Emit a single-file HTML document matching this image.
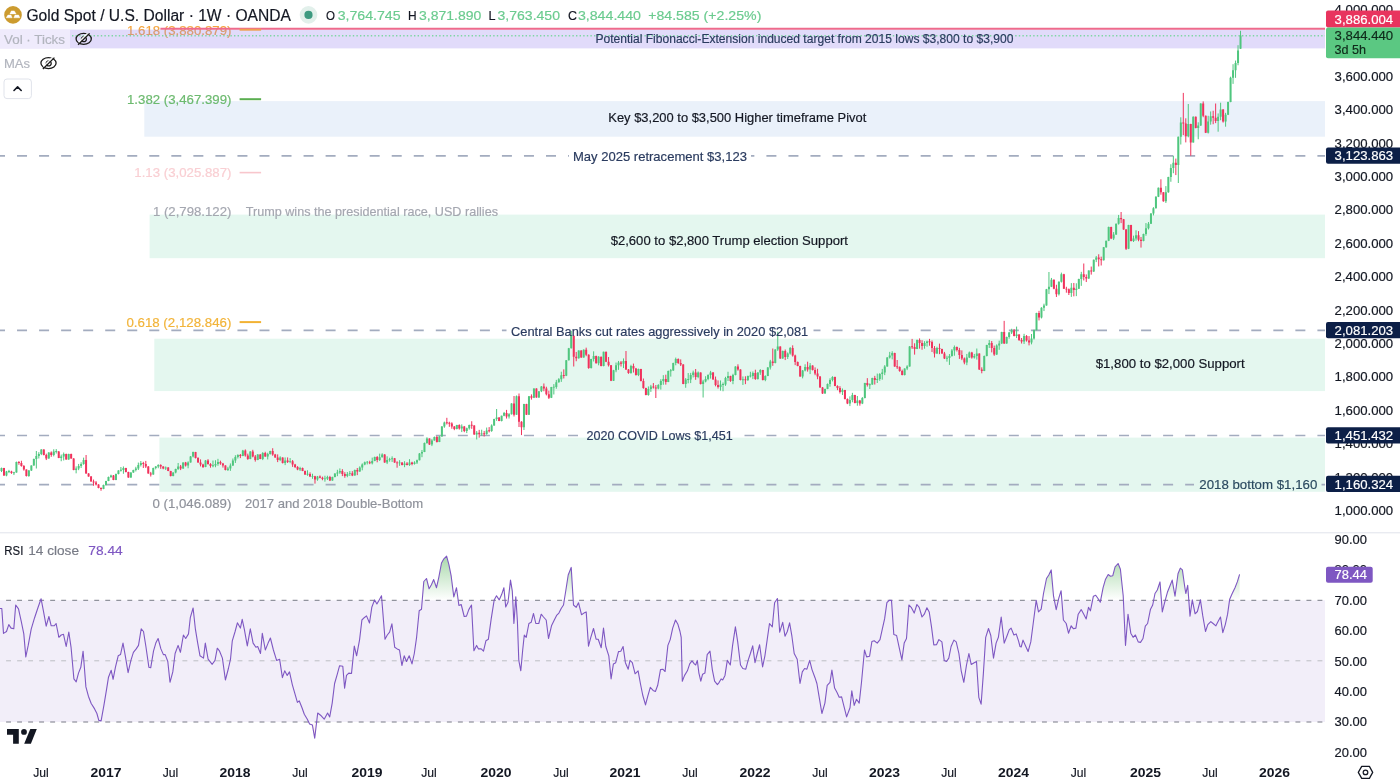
<!DOCTYPE html>
<html><head><meta charset="utf-8"><title>Gold Spot / U.S. Dollar</title>
<style>html,body{margin:0;padding:0;background:#fff;width:1400px;height:780px;overflow:hidden}svg{display:block}text{font-family:"Liberation Sans", Arial, sans-serif}</style>
</head><body>
<svg width="1400" height="780" viewBox="0 0 1400 780"><text x="231.4" y="30.1" font-size="13" fill="#f4a43c" text-anchor="end" font-weight="normal" dominant-baseline="central" textLength="104.4" lengthAdjust="spacingAndGlyphs" stroke="#f4a43c" stroke-width="0.18">1.618 (3,880.879)</text><rect x="0" y="29.6" width="1325" height="18.8" fill="#9b87ee" fill-opacity="0.3"/><rect x="144.3" y="101.1" width="1180.7" height="35.6" fill="#eaf1fa"/><rect x="149.6" y="214.6" width="1175.4" height="43.6" fill="#e4f7ef"/><rect x="154.3" y="338.7" width="1170.7" height="52.4" fill="#e4f7ef"/><rect x="159.4" y="437.6" width="1165.6" height="54.2" fill="#e4f7ef"/><path d="M0.00 155.9H5.00M17.04 155.9H27.04M39.08 155.9H49.08M61.12 155.9H71.12M83.16 155.9H93.16M105.20 155.9H115.20M127.24 155.9H137.24M149.28 155.9H159.28M171.32 155.9H181.32M193.36 155.9H203.36M215.40 155.9H225.40M237.44 155.9H247.44M259.48 155.9H269.48M281.52 155.9H291.52M303.56 155.9H313.56M325.60 155.9H335.60M347.64 155.9H357.64M369.68 155.9H379.68M391.72 155.9H401.72M413.76 155.9H423.76M435.80 155.9H445.80M457.84 155.9H467.84M479.88 155.9H489.88M501.92 155.9H511.92M523.96 155.9H533.96M546.00 155.9H556.00M568.04 155.9H569.00M751.00 155.9H754.36M766.40 155.9H776.40M788.44 155.9H798.44M810.48 155.9H820.48M832.52 155.9H842.52M854.56 155.9H864.56M876.60 155.9H886.60M898.64 155.9H908.64M920.68 155.9H930.68M942.72 155.9H952.72M964.76 155.9H974.76M986.80 155.9H996.80M1008.84 155.9H1018.84M1030.88 155.9H1040.88M1052.92 155.9H1062.92M1074.96 155.9H1084.96M1097.00 155.9H1107.00M1119.04 155.9H1129.04M1141.08 155.9H1151.08M1163.12 155.9H1173.12M1185.16 155.9H1195.16M1207.20 155.9H1217.20M1229.24 155.9H1239.24M1251.28 155.9H1261.28M1273.32 155.9H1283.32M1295.36 155.9H1305.36M1317.40 155.9H1325.00" stroke="#a3acbf" stroke-width="1.7" fill="none"/><path d="M0.00 330.4H5.00M17.04 330.4H27.04M39.08 330.4H49.08M61.12 330.4H71.12M83.16 330.4H93.16M105.20 330.4H115.20M127.24 330.4H137.24M149.28 330.4H159.28M171.32 330.4H181.32M193.36 330.4H203.36M215.40 330.4H225.40M237.44 330.4H247.44M259.48 330.4H269.48M281.52 330.4H291.52M303.56 330.4H313.56M325.60 330.4H335.60M347.64 330.4H357.64M369.68 330.4H379.68M391.72 330.4H401.72M413.76 330.4H423.76M435.80 330.4H445.80M457.84 330.4H467.84M479.88 330.4H489.88M501.92 330.4H506.50M813.50 330.4H820.48M832.52 330.4H842.52M854.56 330.4H864.56M876.60 330.4H886.60M898.64 330.4H908.64M920.68 330.4H930.68M942.72 330.4H952.72M964.76 330.4H974.76M986.80 330.4H996.80M1008.84 330.4H1018.84M1030.88 330.4H1040.88M1052.92 330.4H1062.92M1074.96 330.4H1084.96M1097.00 330.4H1107.00M1119.04 330.4H1129.04M1141.08 330.4H1151.08M1163.12 330.4H1173.12M1185.16 330.4H1195.16M1207.20 330.4H1217.20M1229.24 330.4H1239.24M1251.28 330.4H1261.28M1273.32 330.4H1283.32M1295.36 330.4H1305.36M1317.40 330.4H1325.00" stroke="#a3acbf" stroke-width="1.7" fill="none"/><path d="M0.00 435.5H5.00M17.04 435.5H27.04M39.08 435.5H49.08M61.12 435.5H71.12M83.16 435.5H93.16M105.20 435.5H115.20M127.24 435.5H137.24M149.28 435.5H159.28M171.32 435.5H181.32M193.36 435.5H203.36M215.40 435.5H225.40M237.44 435.5H247.44M259.48 435.5H269.48M281.52 435.5H291.52M303.56 435.5H313.56M325.60 435.5H335.60M347.64 435.5H357.64M369.68 435.5H379.68M391.72 435.5H401.72M413.76 435.5H423.76M435.80 435.5H445.80M457.84 435.5H467.84M479.88 435.5H489.88M501.92 435.5H511.92M523.96 435.5H533.96M546.00 435.5H556.00M568.04 435.5H578.00M744.50 435.5H754.36M766.40 435.5H776.40M788.44 435.5H798.44M810.48 435.5H820.48M832.52 435.5H842.52M854.56 435.5H864.56M876.60 435.5H886.60M898.64 435.5H908.64M920.68 435.5H930.68M942.72 435.5H952.72M964.76 435.5H974.76M986.80 435.5H996.80M1008.84 435.5H1018.84M1030.88 435.5H1040.88M1052.92 435.5H1062.92M1074.96 435.5H1084.96M1097.00 435.5H1107.00M1119.04 435.5H1129.04M1141.08 435.5H1151.08M1163.12 435.5H1173.12M1185.16 435.5H1195.16M1207.20 435.5H1217.20M1229.24 435.5H1239.24M1251.28 435.5H1261.28M1273.32 435.5H1283.32M1295.36 435.5H1305.36M1317.40 435.5H1325.00" stroke="#a3acbf" stroke-width="1.7" fill="none"/><path d="M0.00 484.7H5.00M17.04 484.7H27.04M39.08 484.7H49.08M61.12 484.7H71.12M83.16 484.7H93.16M105.20 484.7H115.20M127.24 484.7H137.24M149.28 484.7H159.28M171.32 484.7H181.32M193.36 484.7H203.36M215.40 484.7H225.40M237.44 484.7H247.44M259.48 484.7H269.48M281.52 484.7H291.52M303.56 484.7H313.56M325.60 484.7H335.60M347.64 484.7H357.64M369.68 484.7H379.68M391.72 484.7H401.72M413.76 484.7H423.76M435.80 484.7H445.80M457.84 484.7H467.84M479.88 484.7H489.88M501.92 484.7H511.92M523.96 484.7H533.96M546.00 484.7H556.00M568.04 484.7H578.04M590.08 484.7H600.08M612.12 484.7H622.12M634.16 484.7H644.16M656.20 484.7H666.20M678.24 484.7H688.24M700.28 484.7H710.28M722.32 484.7H732.32M744.36 484.7H754.36M766.40 484.7H776.40M788.44 484.7H798.44M810.48 484.7H820.48M832.52 484.7H842.52M854.56 484.7H864.56M876.60 484.7H886.60M898.64 484.7H908.64M920.68 484.7H930.68M942.72 484.7H952.72M964.76 484.7H974.76M986.80 484.7H996.80M1008.84 484.7H1018.84M1030.88 484.7H1040.88M1052.92 484.7H1062.92M1074.96 484.7H1084.96M1097.00 484.7H1107.00M1119.04 484.7H1129.04M1141.08 484.7H1151.08M1163.12 484.7H1173.12M1185.16 484.7H1194.00M1321.50 484.7H1325.00" stroke="#a3acbf" stroke-width="1.7" fill="none"/><path d="M160.4 28.8H1325" stroke="#ee6a8c" stroke-width="1.9"/><path d="M0 35.8H1325" stroke="#7fd6a4" stroke-width="1.4" stroke-dasharray="1.4 2.2"/><path d="M239.6 29.7H261.1" stroke="#f0a050" stroke-width="2"/><path d="M239.6 99.2H261.1" stroke="#5aae50" stroke-width="2"/><path d="M239.6 172.6H261.1" stroke="#f8c6cc" stroke-width="1.6"/><path d="M239.6 322.1H261.1" stroke="#f2b233" stroke-width="2"/><path d="M1.50 467.57V472.05M6.48 470.93V476.28M8.96 469.87V473.10M13.94 471.80V475.06M16.43 461.58V472.68M28.87 470.01V476.82M31.36 465.34V470.94M33.84 458.59V465.69M36.33 451.00V468.50M38.82 452.18V458.48M41.31 449.15V455.13M48.77 452.17V458.77M53.75 449.25V456.38M56.24 449.08V453.52M61.21 454.58V461.24M63.70 452.52V460.47M68.68 453.70V459.80M76.14 466.38V473.34M78.63 463.93V470.15M81.12 462.23V467.97M83.60 457.64V464.72M103.51 484.60V489.20M106.00 480.79V485.39M108.48 476.57V481.17M110.97 474.67V477.93M115.95 473.57V480.17M118.44 470.17V474.40M120.92 467.01V471.60M123.41 466.45V473.79M130.88 472.29V477.89M133.36 469.73V472.83M135.85 466.79V471.46M138.34 462.59V470.02M140.83 461.02V466.49M153.27 467.65V474.75M155.76 466.06V469.38M158.24 464.25V468.27M165.71 466.46V469.94M173.17 472.25V476.35M175.66 468.69V473.33M178.15 462.99V469.90M183.12 462.34V468.94M188.10 461.33V468.27M190.59 456.04V462.64M193.08 451.62V457.44M205.52 460.10V467.20M212.98 460.54V467.31M215.47 460.24V467.24M217.96 458.84V465.75M227.91 466.85V471.03M230.40 463.43V470.85M232.88 458.51V466.02M235.37 455.23V462.95M237.86 454.24V458.50M242.84 449.89V456.21M250.30 451.14V459.24M257.76 454.10V460.20M262.74 452.15V460.09M267.72 452.73V459.44M270.20 450.74V454.63M280.16 456.27V461.10M285.13 457.45V465.12M290.11 458.06V463.20M300.06 466.79V470.97M307.52 470.29V475.79M312.50 473.72V478.80M317.48 475.94V480.74M324.94 475.72V481.69M327.43 475.72V480.02M332.40 476.68V480.78M334.89 473.28V477.38M337.38 469.79V476.16M339.87 468.39V473.87M347.33 472.04V477.22M349.82 471.05V475.99M354.80 469.55V475.67M359.77 466.31V471.86M362.26 463.39V470.32M364.75 461.57V465.23M367.24 461.02V464.45M372.21 457.62V464.40M374.70 456.62V461.22M379.68 453.63V461.00M382.16 453.29V457.56M387.14 456.31V464.09M389.63 457.78V461.68M392.12 456.34V461.94M399.58 460.19V465.86M404.56 461.24V467.20M409.53 459.17V465.92M414.51 461.31V464.59M417.00 459.62V464.01M419.48 453.05V460.35M421.97 449.96V457.20M424.46 442.55V452.15M426.95 437.33V443.72M431.92 439.16V446.10M434.41 436.54V440.64M439.39 436.07V442.17M441.88 426.07V436.67M444.36 421.62V427.79M456.80 424.81V429.41M461.78 424.36V432.09M466.76 427.64V433.10M469.24 424.62V429.62M476.71 431.02V439.48M481.68 429.70V435.82M486.66 427.56V434.78M491.64 424.35V431.83M494.12 418.75V425.85M496.61 409.00V420.84M501.59 415.62V421.42M504.08 411.95V416.24M509.05 413.13V418.52M511.54 403.21V414.51M516.52 395.50V414.76M523.98 403.80V430.00M528.96 395.99V414.93M533.93 388.32V398.09M538.91 391.23V397.89M541.40 386.02V392.12M551.35 386.89V398.06M553.84 384.12V394.48M556.32 379.88V388.75M558.81 378.14V382.71M561.30 371.71V381.88M566.28 360.02V376.13M568.76 347.92V360.50M571.25 330.88V348.52M578.72 350.32V358.68M583.69 349.33V357.68M591.16 358.79V368.56M593.64 351.33V361.49M598.62 356.12V365.30M603.60 351.65V366.35M613.55 369.83V381.01M616.04 362.56V372.23M618.52 360.94V369.85M623.50 358.42V368.06M630.96 364.78V373.78M638.43 368.58V376.13M648.38 386.45V395.71M650.87 384.87V391.88M658.33 384.17V389.28M660.82 379.22V389.59M663.31 375.17V384.75M668.28 370.56V382.16M670.77 368.97V376.61M673.26 362.70V370.80M675.75 357.60V365.28M685.70 378.09V387.78M688.19 373.06V383.32M690.68 372.85V383.10M693.16 370.61V377.45M698.14 371.46V378.23M703.12 379.81V397.51M705.60 376.23V382.37M708.09 374.29V380.27M710.58 370.85V378.61M720.53 380.44V390.61M723.02 382.49V391.26M725.51 376.80V385.85M728.00 371.75V380.99M732.97 373.78V384.19M735.46 366.26V375.36M742.92 376.45V384.96M747.90 375.58V381.00M750.39 371.77V377.46M752.88 371.46V379.11M757.85 372.26V379.61M760.34 369.18V374.89M765.32 375.33V381.22M767.80 367.06V376.16M770.29 359.86V369.52M775.27 349.26V363.36M777.76 331.71V350.90M782.73 350.57V358.82M787.71 352.43V358.99M790.20 347.02V354.61M802.64 370.04V378.35M805.12 364.28V371.38M810.10 363.04V374.08M825.03 388.60V393.70M827.52 383.47V389.17M830.00 378.31V386.74M832.49 376.24V381.40M842.44 388.48V395.03M849.91 396.34V406.08M852.40 392.84V402.29M857.37 396.00V405.73M862.35 397.07V404.11M864.84 382.79V398.39M869.81 383.36V389.02M872.30 377.73V384.83M877.28 373.57V383.01M879.76 373.13V380.81M882.25 368.91V379.69M884.74 365.15V375.14M887.23 357.11V366.71M889.72 351.89V358.57M892.20 351.24V359.38M904.64 368.36V375.46M907.13 365.24V370.12M909.62 346.06V366.66M917.08 339.54V349.14M924.55 341.20V348.71M927.04 340.58V346.64M936.99 346.77V354.05M946.94 355.73V361.66M949.43 354.07V364.92M951.92 349.05V356.66M954.40 345.49V355.72M966.84 353.95V365.18M969.33 351.54V358.06M974.31 353.94V358.59M976.80 348.52V359.60M984.26 355.54V371.14M986.75 344.79V356.39M989.24 340.06V347.98M996.70 344.39V355.06M999.19 340.65V349.84M1001.68 331.75V343.85M1006.65 336.61V343.71M1009.14 331.95V338.76M1011.63 328.77V334.02M1016.60 326.59V338.07M1024.07 333.82V343.97M1031.53 334.00V344.35M1034.02 329.59V339.58M1036.51 312.77V330.37M1041.48 307.22V318.44M1043.97 303.70V311.05M1046.46 288.90V305.67M1048.95 272.00V294.06M1051.44 277.95V287.08M1058.90 281.33V295.50M1061.39 272.60V282.54M1071.34 283.10V296.90M1076.32 283.27V296.13M1078.80 278.70V289.00M1081.29 271.83V285.87M1088.76 270.29V278.97M1093.73 259.51V271.97M1096.22 255.97V262.12M1103.68 246.97V260.55M1106.17 240.69V247.76M1108.66 226.61V241.13M1113.64 232.09V240.03M1116.12 223.50V234.99M1118.61 214.94V224.61M1128.56 224.81V249.13M1133.54 235.64V242.01M1136.03 230.27V240.68M1143.49 233.66V241.31M1145.98 223.05V235.73M1148.47 222.04V229.45M1150.96 213.16V224.02M1153.44 207.18V215.42M1155.93 196.20V208.53M1158.42 187.52V197.10M1165.88 186.11V202.98M1168.37 176.78V192.77M1170.86 164.25V181.78M1173.35 155.76V173.22M1178.32 136.59V183.00M1180.81 117.30V144.50M1188.28 104.00V137.30M1193.25 116.35V142.59M1198.23 122.30V139.28M1200.72 103.30V125.95M1208.18 115.80V133.49M1210.67 111.45V124.69M1218.13 113.42V131.70M1220.62 102.69V120.23M1225.60 112.84V126.70M1228.08 101.65V115.07M1230.57 76.70V102.24M1233.06 64.20V83.88M1235.55 60.56V77.85M1238.04 45.20V65.25M1240.52 30.79V48.90" stroke="#4fc67e" stroke-width="1" fill="none"/><path d="M0.50 468.00h2V471.00h-2zM5.48 471.50h2V475.50h-2zM7.96 471.10h2V471.90h-2zM12.94 472.35h2V473.15h-2zM15.43 462.00h2V472.50h-2zM27.87 470.50h2V476.00h-2zM30.36 465.50h2V470.50h-2zM32.84 459.00h2V465.50h-2zM35.33 456.00h2V459.00h-2zM37.82 454.00h2V456.00h-2zM40.31 449.50h2V454.00h-2zM47.77 452.50h2V458.50h-2zM52.75 451.50h2V455.00h-2zM55.24 451.10h2V451.90h-2zM60.21 456.50h2V458.00h-2zM62.70 454.00h2V456.50h-2zM67.68 454.00h2V459.50h-2zM75.14 468.50h2V470.00h-2zM77.63 466.00h2V468.50h-2zM80.12 464.00h2V466.00h-2zM82.60 460.00h2V464.00h-2zM102.51 485.00h2V489.00h-2zM105.00 481.00h2V485.00h-2zM107.48 477.00h2V481.00h-2zM109.97 475.50h2V477.00h-2zM114.95 474.00h2V480.00h-2zM117.44 470.50h2V474.00h-2zM119.92 469.85h2V470.65h-2zM122.41 468.00h2V470.00h-2zM129.88 472.50h2V477.50h-2zM132.36 470.00h2V472.50h-2zM134.85 468.50h2V470.00h-2zM137.34 465.00h2V468.50h-2zM139.83 463.00h2V465.00h-2zM152.27 468.00h2V474.50h-2zM154.76 466.50h2V468.00h-2zM157.24 465.00h2V466.50h-2zM164.71 467.50h2V468.50h-2zM172.17 472.50h2V476.00h-2zM174.66 469.00h2V472.50h-2zM177.15 466.50h2V469.00h-2zM182.12 462.50h2V468.50h-2zM187.10 462.50h2V465.50h-2zM189.59 456.50h2V462.50h-2zM192.08 452.00h2V456.50h-2zM204.52 460.50h2V467.00h-2zM211.98 465.35h2V466.15h-2zM214.47 464.00h2V465.50h-2zM216.96 462.00h2V464.00h-2zM226.91 468.50h2V470.00h-2zM229.40 465.50h2V468.50h-2zM231.88 460.50h2V465.50h-2zM234.37 457.00h2V460.50h-2zM236.86 455.00h2V457.00h-2zM241.84 450.50h2V456.00h-2zM249.30 451.50h2V459.00h-2zM256.76 454.50h2V460.00h-2zM261.74 453.00h2V459.00h-2zM266.72 454.00h2V456.50h-2zM269.20 451.00h2V454.00h-2zM279.16 457.50h2V460.00h-2zM284.13 460.50h2V463.00h-2zM289.11 461.20h2V462.00h-2zM299.06 468.00h2V469.50h-2zM306.52 473.85h2V474.65h-2zM311.50 475.95h2V476.75h-2zM316.48 476.50h2V479.50h-2zM323.94 478.50h2V479.30h-2zM326.43 477.00h2V478.80h-2zM331.40 477.00h2V480.50h-2zM333.89 473.50h2V477.00h-2zM336.38 472.50h2V473.50h-2zM338.87 471.00h2V472.50h-2zM346.33 474.00h2V476.00h-2zM348.82 473.20h2V474.00h-2zM353.80 470.00h2V475.50h-2zM358.77 467.50h2V471.50h-2zM361.26 464.50h2V467.50h-2zM363.75 462.20h2V464.50h-2zM366.24 461.80h2V462.60h-2zM371.21 461.00h2V463.20h-2zM373.70 457.00h2V461.00h-2zM378.68 457.20h2V460.00h-2zM381.16 454.50h2V457.20h-2zM386.14 460.00h2V462.50h-2zM388.63 459.20h2V460.00h-2zM391.12 458.20h2V459.20h-2zM398.58 462.45h2V463.25h-2zM403.56 463.50h2V465.00h-2zM408.53 462.50h2V465.00h-2zM413.51 462.50h2V464.00h-2zM416.00 460.20h2V462.50h-2zM418.48 453.50h2V460.20h-2zM420.97 452.00h2V453.50h-2zM423.46 443.00h2V452.00h-2zM425.95 438.50h2V443.00h-2zM430.92 440.50h2V444.50h-2zM433.41 437.00h2V440.50h-2zM438.39 436.50h2V442.00h-2zM440.88 426.50h2V436.50h-2zM443.36 422.50h2V426.50h-2zM455.80 425.00h2V429.00h-2zM460.78 426.50h2V428.50h-2zM465.76 428.20h2V431.00h-2zM468.24 425.00h2V428.20h-2zM475.71 432.80h2V434.50h-2zM480.68 433.45h2V434.25h-2zM485.66 430.50h2V434.00h-2zM490.64 425.50h2V431.00h-2zM493.12 419.00h2V425.50h-2zM495.61 417.50h2V419.00h-2zM500.59 415.80h2V421.00h-2zM503.08 413.00h2V415.80h-2zM508.05 414.20h2V416.50h-2zM510.54 403.50h2V414.20h-2zM515.52 396.29h2V414.63h-2zM522.98 404.05h2V427.32h-2zM527.96 396.29h2V414.63h-2zM532.93 388.53h2V397.70h-2zM537.91 391.35h2V397.42h-2zM540.40 386.42h2V391.35h-2zM550.35 387.12h2V397.70h-2zM552.84 386.72h2V387.52h-2zM555.32 382.19h2V387.12h-2zM557.81 379.37h2V382.19h-2zM560.30 375.13h2V379.37h-2zM565.28 360.32h2V375.84h-2zM567.76 348.34h2V360.32h-2zM570.25 335.64h2V348.34h-2zM577.72 350.45h2V358.21h-2zM582.69 349.75h2V357.50h-2zM590.16 358.91h2V368.08h-2zM592.64 356.09h2V358.91h-2zM597.62 356.80h2V363.15h-2zM602.60 351.86h2V365.97h-2zM612.55 370.20h2V380.78h-2zM615.04 365.26h2V370.20h-2zM617.52 362.44h2V365.26h-2zM622.50 361.03h2V363.85h-2zM629.96 366.00h2V373.02h-2zM637.43 369.00h2V375.00h-2zM647.38 389.00h2V395.00h-2zM649.87 386.50h2V389.00h-2zM657.33 385.00h2V388.50h-2zM659.82 381.00h2V385.00h-2zM662.31 379.00h2V381.00h-2zM667.28 371.00h2V382.00h-2zM669.77 370.35h2V371.15h-2zM672.26 363.00h2V370.50h-2zM674.75 359.00h2V363.00h-2zM684.70 379.50h2V384.00h-2zM687.19 379.10h2V379.90h-2zM689.68 375.00h2V379.50h-2zM692.16 372.50h2V375.00h-2zM697.14 372.50h2V377.00h-2zM702.12 381.50h2V384.00h-2zM704.60 379.00h2V381.50h-2zM707.09 375.00h2V379.00h-2zM709.58 372.50h2V375.00h-2zM719.53 384.50h2V387.00h-2zM722.02 384.10h2V384.90h-2zM724.51 378.00h2V384.50h-2zM727.00 376.00h2V378.00h-2zM731.97 375.00h2V381.00h-2zM734.46 366.50h2V375.00h-2zM741.92 379.35h2V380.15h-2zM746.90 376.00h2V380.00h-2zM749.39 375.60h2V376.40h-2zM751.88 373.00h2V376.00h-2zM756.85 372.50h2V379.00h-2zM759.34 370.00h2V372.50h-2zM764.32 376.00h2V380.00h-2zM766.80 367.50h2V376.00h-2zM769.29 361.50h2V367.50h-2zM774.27 349.50h2V363.00h-2zM776.76 346.50h2V349.50h-2zM781.73 351.00h2V358.50h-2zM786.71 353.50h2V357.00h-2zM789.20 348.00h2V353.50h-2zM801.64 370.50h2V376.50h-2zM804.12 367.00h2V370.50h-2zM809.10 365.50h2V369.50h-2zM824.03 389.00h2V393.50h-2zM826.52 384.00h2V389.00h-2zM829.00 380.00h2V384.00h-2zM831.49 377.00h2V380.00h-2zM841.44 390.00h2V392.00h-2zM848.91 400.00h2V403.50h-2zM851.40 395.00h2V400.00h-2zM856.37 400.50h2V403.00h-2zM861.35 398.00h2V403.50h-2zM863.84 383.00h2V398.00h-2zM868.81 384.35h2V385.15h-2zM871.30 378.00h2V384.50h-2zM876.28 379.00h2V380.00h-2zM878.76 374.00h2V379.00h-2zM881.25 372.50h2V374.00h-2zM883.74 366.50h2V372.50h-2zM886.23 357.50h2V366.50h-2zM888.72 355.50h2V357.50h-2zM891.20 353.00h2V355.50h-2zM903.64 368.50h2V375.00h-2zM906.13 366.50h2V368.50h-2zM908.62 346.50h2V366.50h-2zM916.08 340.00h2V349.00h-2zM923.55 343.00h2V346.00h-2zM926.04 341.50h2V343.00h-2zM935.99 348.00h2V353.50h-2zM945.94 357.85h2V358.65h-2zM948.43 356.00h2V358.00h-2zM950.92 350.50h2V356.00h-2zM953.40 347.00h2V350.50h-2zM965.84 357.50h2V362.50h-2zM968.33 352.50h2V357.50h-2zM973.31 356.00h2V357.50h-2zM975.80 353.50h2V356.00h-2zM983.26 356.00h2V371.00h-2zM985.75 345.00h2V356.00h-2zM988.24 343.00h2V345.00h-2zM995.70 345.50h2V354.50h-2zM998.19 343.50h2V345.50h-2zM1000.68 332.00h2V343.50h-2zM1005.65 337.00h2V343.50h-2zM1008.14 332.50h2V337.00h-2zM1010.63 330.50h2V332.50h-2zM1015.60 334.50h2V336.00h-2zM1023.07 336.00h2V341.50h-2zM1030.53 338.50h2V342.50h-2zM1033.02 330.00h2V338.50h-2zM1035.51 313.00h2V330.00h-2zM1040.48 307.66h2V317.50h-2zM1042.97 305.50h2V307.66h-2zM1045.46 289.34h2V305.50h-2zM1047.95 286.65h2V289.34h-2zM1050.44 279.64h2V286.65h-2zM1057.90 281.80h2V294.19h-2zM1060.39 274.25h2V281.80h-2zM1070.34 287.72h2V293.11h-2zM1075.32 288.80h2V289.88h-2zM1077.80 279.10h2V288.80h-2zM1080.29 274.25h2V279.10h-2zM1087.76 270.48h2V278.56h-2zM1092.73 259.71h2V271.56h-2zM1095.22 257.55h2V259.71h-2zM1102.68 247.31h2V260.25h-2zM1105.17 240.85h2V247.31h-2zM1107.66 226.92h2V240.85h-2zM1112.64 234.62h2V238.46h-2zM1115.12 223.72h2V234.62h-2zM1117.61 217.95h2V223.72h-2zM1127.56 225.00h2V248.72h-2zM1132.54 238.46h2V241.03h-2zM1135.03 235.26h2V238.46h-2zM1142.49 233.97h2V241.03h-2zM1144.98 228.21h2V233.97h-2zM1147.47 223.72h2V228.21h-2zM1149.96 213.46h2V223.72h-2zM1152.44 208.33h2V213.46h-2zM1154.93 196.79h2V208.33h-2zM1157.42 187.82h2V196.79h-2zM1164.88 192.31h2V201.28h-2zM1167.37 176.92h2V192.31h-2zM1169.86 167.95h2V176.92h-2zM1172.35 162.82h2V167.95h-2zM1177.32 136.79h2V165.00h-2zM1179.81 122.44h2V136.79h-2zM1187.28 123.97h2V136.28h-2zM1192.25 116.79h2V142.44h-2zM1197.23 125.51h2V128.08h-2zM1199.72 103.46h2V125.51h-2zM1207.18 121.41h2V132.69h-2zM1209.67 116.28h2V121.41h-2zM1217.13 116.79h2V120.90h-2zM1219.62 109.62h2V116.79h-2zM1224.60 114.74h2V121.41h-2zM1227.08 101.92h2V114.74h-2zM1229.57 77.80h2V101.92h-2zM1232.06 70.20h2V77.80h-2zM1234.55 63.10h2V70.20h-2zM1237.04 50.60h2V63.10h-2zM1239.52 35.40h2V48.69h-2z" fill="#4fc67e"/><path d="M3.99 467.85V475.95M11.45 470.76V473.87M18.92 461.11V464.77M21.40 460.76V466.67M23.89 465.09V470.67M26.38 469.35V476.50M43.80 449.31V455.41M46.28 453.69V460.06M51.26 451.41V456.79M58.72 451.06V458.16M66.19 453.61V459.71M71.16 453.64V458.74M73.65 458.17V470.27M86.09 455.00V473.74M88.58 473.13V476.73M91.07 476.02V481.62M93.56 479.55V485.81M96.04 481.07V485.45M98.53 484.21V488.31M101.02 487.35V490.75M113.46 475.00V480.19M125.90 467.80V472.40M128.39 471.71V477.81M143.32 461.79V467.98M145.80 460.90V468.04M148.29 466.09V473.69M150.78 471.90V476.54M160.73 464.29V468.87M163.22 466.21V469.22M168.20 467.07V471.17M170.68 470.83V476.43M180.64 464.97V470.09M185.61 461.92V466.54M195.56 451.87V458.47M198.05 457.18V462.72M200.54 459.39V466.43M203.03 463.78V468.00M208.00 459.15V464.67M210.49 463.15V467.70M220.44 460.66V464.79M222.93 462.92V467.60M225.42 465.28V470.38M240.35 453.99V458.12M245.32 449.42V456.64M247.81 453.65V459.87M252.79 449.81V457.33M255.28 454.97V461.62M260.25 454.09V459.19M265.23 451.77V456.87M272.69 448.22V455.79M275.18 453.90V457.76M277.67 454.39V462.12M282.64 457.37V463.47M287.62 457.42V462.97M292.60 460.04V466.90M295.08 463.87V468.05M297.57 466.13V470.21M302.55 467.55V471.15M305.04 470.54V475.01M310.01 472.33V477.05M314.99 475.82V483.63M319.96 475.42V478.31M322.45 476.64V480.24M329.92 475.86V481.06M342.36 469.17V476.10M344.84 472.21V477.77M352.31 471.14V476.13M357.28 467.99V475.14M369.72 460.74V464.17M377.19 456.08V462.31M384.65 454.20V462.80M394.60 457.97V462.87M397.09 461.29V467.71M402.07 462.24V465.39M407.04 462.03V465.39M412.02 461.76V465.32M429.44 438.36V444.96M436.90 435.90V442.52M446.85 417.81V424.51M449.34 421.72V426.84M451.83 422.31V428.78M454.32 426.01V430.17M459.29 424.33V429.59M464.27 425.98V432.19M471.73 421.22V428.84M474.22 425.21V434.81M479.20 429.86V437.66M484.17 430.94V436.52M489.15 427.09V432.46M499.10 417.11V421.21M506.56 409.89V418.55M514.03 396.00V416.50M519.00 393.50V427.00M521.49 421.21V435.08M526.47 403.79V414.97M531.44 394.36V399.61M536.42 388.27V397.76M543.88 383.47V391.28M546.37 386.73V395.40M548.86 390.66V399.02M563.79 369.35V378.47M573.74 335.64V366.50M576.23 351.94V361.24M581.20 350.20V357.85M586.18 347.67V356.21M588.67 354.32V368.80M596.13 355.63V363.57M601.11 356.59V366.36M606.08 351.67V362.14M608.57 357.06V366.54M611.06 365.00V381.12M621.01 360.99V366.51M625.99 351.00V369.97M628.48 369.04V373.82M633.45 363.58V372.54M635.94 367.91V375.64M640.92 368.81V381.41M643.40 378.50V388.78M645.89 387.71V395.31M653.36 383.06V388.54M655.84 385.04V398.00M665.80 374.70V384.61M678.24 358.40V363.88M680.72 359.38V366.02M683.21 364.11V384.21M695.65 369.01V379.82M700.63 372.36V384.46M713.07 372.04V379.64M715.56 376.55V386.34M718.04 380.41V388.55M730.48 375.75V381.85M737.95 364.30V370.72M740.44 369.29V380.39M745.41 376.29V384.15M755.36 369.70V379.84M762.83 369.85V380.45M772.78 348.50V365.83M780.24 346.33V358.93M785.22 349.49V360.07M792.68 345.33V356.60M795.17 354.65V365.14M797.66 361.56V366.26M800.15 365.71V376.81M807.61 361.70V371.63M812.59 365.31V370.46M815.08 367.38V375.18M817.56 368.78V379.23M820.05 376.10V387.70M822.54 387.03V393.92M834.98 376.63V386.23M837.47 385.31V390.17M839.96 386.16V393.51M844.93 389.88V399.48M847.42 398.41V404.14M854.88 394.79V403.39M859.86 399.91V405.67M867.32 378.15V386.57M874.79 375.87V384.54M894.69 352.73V366.83M897.18 360.01V368.95M899.67 366.40V371.78M902.16 369.63V375.38M912.11 338.92V348.91M914.60 343.29V354.63M919.57 338.42V348.63M922.06 340.21V349.74M929.52 338.89V345.74M932.01 340.48V352.02M934.50 346.08V357.49M939.48 343.61V354.17M941.96 348.71V353.81M944.45 351.88V359.04M956.89 346.53V351.50M959.38 347.86V358.91M961.87 350.39V360.13M964.36 357.47V364.31M971.82 351.84V358.64M979.28 353.37V369.97M981.77 367.34V373.30M991.72 341.03V352.38M994.21 345.59V355.84M1004.16 320.86V343.95M1014.12 329.07V336.39M1019.09 334.18V340.97M1021.58 337.99V343.52M1026.56 335.07V341.63M1029.04 336.08V345.39M1039.00 310.84V320.43M1053.92 279.41V289.26M1056.41 284.76V296.97M1063.88 273.81V288.95M1066.36 286.77V292.70M1068.85 288.48V295.00M1073.83 282.98V296.34M1083.78 263.50V280.47M1086.27 274.42V282.04M1091.24 266.56V274.64M1098.71 254.27V266.43M1101.20 256.67V265.49M1111.15 226.71V239.09M1121.10 212.00V223.10M1123.59 218.96V229.82M1126.08 229.01V250.00M1131.05 224.81V241.43M1138.52 231.13V241.27M1141.00 236.96V247.59M1160.91 179.29V194.71M1163.40 192.14V201.72M1175.84 158.58V175.08M1183.30 92.90V135.11M1185.79 118.30V142.40M1190.76 123.77V155.72M1195.74 116.47V128.35M1203.20 101.40V117.20M1205.69 115.54V133.06M1213.16 110.76V124.22M1215.64 103.50V123.13M1223.11 109.09V122.60" stroke="#f0325c" stroke-width="1" fill="none"/><path d="M2.99 468.00h2V475.50h-2zM10.45 471.50h2V473.00h-2zM17.92 462.00h2V463.00h-2zM20.40 463.00h2V466.00h-2zM22.89 466.00h2V469.50h-2zM25.38 469.50h2V476.00h-2zM42.80 449.50h2V455.00h-2zM45.28 455.00h2V458.50h-2zM50.26 452.50h2V455.00h-2zM57.72 451.50h2V458.00h-2zM65.19 454.00h2V459.50h-2zM70.16 454.00h2V458.50h-2zM72.65 458.50h2V470.00h-2zM85.09 460.00h2V473.50h-2zM87.58 473.50h2V476.50h-2zM90.07 476.50h2V481.50h-2zM92.56 481.50h2V482.50h-2zM95.04 482.50h2V484.50h-2zM97.53 484.50h2V488.00h-2zM100.02 488.00h2V489.00h-2zM112.46 475.50h2V480.00h-2zM124.90 468.00h2V472.00h-2zM127.39 472.00h2V477.50h-2zM142.32 463.00h2V464.00h-2zM144.80 464.00h2V466.50h-2zM147.29 466.50h2V473.50h-2zM149.78 473.50h2V474.50h-2zM159.73 465.00h2V466.50h-2zM162.22 466.50h2V468.50h-2zM167.20 467.50h2V471.00h-2zM169.68 471.00h2V476.00h-2zM179.64 466.50h2V468.50h-2zM184.61 462.50h2V465.50h-2zM194.56 452.00h2V458.00h-2zM197.05 458.00h2V462.50h-2zM199.54 462.50h2V464.50h-2zM202.03 464.50h2V467.00h-2zM207.00 460.50h2V464.00h-2zM209.49 464.00h2V466.00h-2zM219.44 462.00h2V463.50h-2zM221.93 463.50h2V465.50h-2zM224.42 465.50h2V470.00h-2zM239.35 455.00h2V456.00h-2zM244.32 450.50h2V455.50h-2zM246.81 455.50h2V459.00h-2zM251.79 451.50h2V456.50h-2zM254.28 456.50h2V460.00h-2zM259.25 454.50h2V459.00h-2zM264.23 453.00h2V456.50h-2zM271.69 451.00h2V454.50h-2zM274.18 454.50h2V457.50h-2zM276.67 457.50h2V460.00h-2zM281.64 457.50h2V463.00h-2zM286.62 460.50h2V462.00h-2zM291.60 461.20h2V464.50h-2zM294.08 464.50h2V467.00h-2zM296.57 467.00h2V469.50h-2zM301.55 468.00h2V471.00h-2zM304.04 471.00h2V474.50h-2zM309.01 474.00h2V476.50h-2zM313.99 476.20h2V479.50h-2zM318.96 476.50h2V477.80h-2zM321.45 477.80h2V479.00h-2zM328.92 477.00h2V480.50h-2zM341.36 471.00h2V474.00h-2zM343.84 474.00h2V476.00h-2zM351.31 473.20h2V475.50h-2zM356.28 470.00h2V471.50h-2zM368.72 462.20h2V463.20h-2zM376.19 457.00h2V460.00h-2zM383.65 454.50h2V462.50h-2zM393.60 458.20h2V462.50h-2zM396.09 462.45h2V463.25h-2zM401.07 462.50h2V465.00h-2zM406.04 463.50h2V465.00h-2zM411.02 462.50h2V464.00h-2zM428.44 438.50h2V444.50h-2zM435.90 437.00h2V442.00h-2zM445.85 422.35h2V423.15h-2zM448.34 422.85h2V423.65h-2zM450.83 423.50h2V426.50h-2zM453.32 426.50h2V429.00h-2zM458.29 425.00h2V428.50h-2zM463.27 426.50h2V431.00h-2zM470.73 424.85h2V425.65h-2zM473.22 425.50h2V434.50h-2zM478.20 432.80h2V434.20h-2zM483.17 433.35h2V434.15h-2zM488.15 430.35h2V431.15h-2zM498.10 417.50h2V421.00h-2zM505.56 413.00h2V416.50h-2zM513.03 403.50h2V414.63h-2zM518.00 396.29h2V421.68h-2zM520.49 421.68h2V427.32h-2zM525.47 404.05h2V414.63h-2zM530.44 396.29h2V397.70h-2zM535.42 388.53h2V397.42h-2zM542.88 386.42h2V388.53h-2zM545.37 388.53h2V394.17h-2zM547.86 394.17h2V397.70h-2zM562.79 375.09h2V375.89h-2zM572.74 335.64h2V356.80h-2zM575.23 356.80h2V358.21h-2zM580.20 350.45h2V357.50h-2zM585.18 349.75h2V354.68h-2zM587.67 354.68h2V368.08h-2zM595.13 356.09h2V363.15h-2zM600.11 356.80h2V365.97h-2zM605.08 351.86h2V361.73h-2zM607.57 361.73h2V365.26h-2zM610.06 365.26h2V380.78h-2zM620.01 362.44h2V363.85h-2zM624.99 361.03h2V369.49h-2zM627.48 369.49h2V373.02h-2zM632.45 366.00h2V368.50h-2zM634.94 368.50h2V375.00h-2zM639.92 369.00h2V381.00h-2zM642.40 381.00h2V388.00h-2zM644.89 388.00h2V395.00h-2zM652.36 386.50h2V387.50h-2zM654.84 387.50h2V388.50h-2zM664.80 379.00h2V382.00h-2zM677.24 359.00h2V363.00h-2zM679.72 363.00h2V364.50h-2zM682.21 364.50h2V384.00h-2zM694.65 372.50h2V377.00h-2zM699.63 372.50h2V384.00h-2zM712.07 372.50h2V379.50h-2zM714.56 379.50h2V385.00h-2zM717.04 385.00h2V387.00h-2zM729.48 376.00h2V381.00h-2zM736.95 366.50h2V369.50h-2zM739.44 369.50h2V380.00h-2zM744.41 379.35h2V380.15h-2zM754.36 373.00h2V379.00h-2zM761.83 370.00h2V380.00h-2zM771.78 361.50h2V363.00h-2zM779.24 346.50h2V358.50h-2zM784.22 351.00h2V357.00h-2zM791.68 348.00h2V355.50h-2zM794.17 355.50h2V362.00h-2zM796.66 362.00h2V366.00h-2zM799.15 366.00h2V376.50h-2zM806.61 367.00h2V369.50h-2zM811.59 365.50h2V370.00h-2zM814.08 370.00h2V373.50h-2zM816.56 373.50h2V376.50h-2zM819.05 376.50h2V387.50h-2zM821.54 387.50h2V393.50h-2zM833.98 377.00h2V386.00h-2zM836.47 386.00h2V388.00h-2zM838.96 388.00h2V392.00h-2zM843.93 390.00h2V399.00h-2zM846.42 399.00h2V403.50h-2zM853.88 395.00h2V403.00h-2zM858.86 400.50h2V403.50h-2zM866.32 383.00h2V385.00h-2zM873.79 378.00h2V380.00h-2zM893.69 353.00h2V366.50h-2zM896.18 366.35h2V367.15h-2zM898.67 367.00h2V371.00h-2zM901.16 371.00h2V375.00h-2zM911.11 346.35h2V347.15h-2zM913.60 347.00h2V349.00h-2zM918.57 340.00h2V343.00h-2zM921.06 343.00h2V346.00h-2zM928.52 341.35h2V342.15h-2zM931.01 342.00h2V348.00h-2zM933.50 348.00h2V353.50h-2zM938.48 348.00h2V349.00h-2zM940.96 349.00h2V353.50h-2zM943.45 353.50h2V358.50h-2zM955.89 347.00h2V350.00h-2zM958.38 350.00h2V355.00h-2zM960.87 355.00h2V358.50h-2zM963.36 358.50h2V362.50h-2zM970.82 352.50h2V357.50h-2zM978.28 353.50h2V369.50h-2zM980.77 369.50h2V371.00h-2zM990.72 343.00h2V348.00h-2zM993.21 348.00h2V354.50h-2zM1003.16 332.00h2V343.50h-2zM1013.12 330.50h2V336.00h-2zM1018.09 334.50h2V340.00h-2zM1020.58 340.00h2V341.50h-2zM1025.56 336.00h2V340.50h-2zM1028.04 340.50h2V342.50h-2zM1038.00 313.00h2V317.50h-2zM1052.92 279.64h2V288.80h-2zM1055.41 288.80h2V294.19h-2zM1062.88 274.25h2V288.80h-2zM1065.36 288.67h2V289.47h-2zM1067.85 289.34h2V293.11h-2zM1072.83 287.72h2V289.88h-2zM1082.78 274.25h2V276.95h-2zM1085.27 276.95h2V278.56h-2zM1090.24 270.48h2V271.56h-2zM1097.71 257.55h2V259.17h-2zM1100.20 259.17h2V260.25h-2zM1110.15 226.92h2V238.46h-2zM1120.10 217.95h2V219.23h-2zM1122.59 219.23h2V229.49h-2zM1125.08 229.49h2V248.72h-2zM1130.05 225.00h2V241.03h-2zM1137.52 235.26h2V239.74h-2zM1140.00 239.74h2V241.03h-2zM1159.91 187.82h2V192.31h-2zM1162.40 192.31h2V201.28h-2zM1174.84 162.82h2V165.00h-2zM1182.30 122.44h2V123.46h-2zM1184.79 123.46h2V136.28h-2zM1189.76 123.97h2V142.44h-2zM1194.74 116.79h2V128.08h-2zM1202.20 103.46h2V115.77h-2zM1204.69 115.77h2V132.69h-2zM1212.16 116.28h2V117.82h-2zM1214.64 117.82h2V120.90h-2zM1222.11 109.62h2V121.41h-2z" fill="#f0325c"/><rect x="0" y="29.6" width="70" height="18.8" fill="#efebfc"/><text x="804.4" y="38.8" font-size="13" fill="#2a3b5f" text-anchor="middle" font-weight="normal" dominant-baseline="central" textLength="418" lengthAdjust="spacingAndGlyphs" stroke="#2a3b5f" stroke-width="0.18">Potential Fibonacci-Extension induced target from 2015 lows $3,800 to $3,900</text><text x="737.3" y="117.8" font-size="13" fill="#131722" text-anchor="middle" font-weight="normal" dominant-baseline="central" textLength="258" lengthAdjust="spacingAndGlyphs" stroke="#131722" stroke-width="0.18">Key $3,200 to $3,500 Higher timeframe Pivot</text><text x="659.9" y="156.5" font-size="13" fill="#2a3b5f" text-anchor="middle" font-weight="normal" dominant-baseline="central" textLength="174" lengthAdjust="spacingAndGlyphs" stroke="#2a3b5f" stroke-width="0.18">May 2025 retracement $3,123</text><text x="729.3" y="240.0" font-size="13" fill="#131722" text-anchor="middle" font-weight="normal" dominant-baseline="central" textLength="237.3" lengthAdjust="spacingAndGlyphs" stroke="#131722" stroke-width="0.18">$2,600 to $2,800 Trump election Support</text><text x="659.6" y="331.0" font-size="13" fill="#2a3b5f" text-anchor="middle" font-weight="normal" dominant-baseline="central" textLength="297.2" lengthAdjust="spacingAndGlyphs" stroke="#2a3b5f" stroke-width="0.18">Central Banks cut rates aggressively in 2020 $2,081</text><text x="1170.2" y="363.9" font-size="13" fill="#131722" text-anchor="middle" font-weight="normal" dominant-baseline="central" textLength="149" lengthAdjust="spacingAndGlyphs" stroke="#131722" stroke-width="0.18">$1,800 to $2,000 Support</text><text x="659.7" y="435.7" font-size="13" fill="#2a3b5f" text-anchor="middle" font-weight="normal" dominant-baseline="central" textLength="146.2" lengthAdjust="spacingAndGlyphs" stroke="#2a3b5f" stroke-width="0.18">2020 COVID Lows $1,451</text><text x="1258.3" y="484.7" font-size="13" fill="#2b4a60" text-anchor="middle" font-weight="normal" dominant-baseline="central" textLength="118" lengthAdjust="spacingAndGlyphs" stroke="#2b4a60" stroke-width="0.18">2018 bottom $1,160</text><text x="231.4" y="99.6" font-size="13" fill="#6cba6f" text-anchor="end" font-weight="normal" dominant-baseline="central" textLength="104.4" lengthAdjust="spacingAndGlyphs" stroke="#6cba6f" stroke-width="0.18">1.382 (3,467.399)</text><text x="231.4" y="172.6" font-size="13" fill="#f9cfd3" text-anchor="end" font-weight="normal" dominant-baseline="central" textLength="97.1" lengthAdjust="spacingAndGlyphs" stroke="#f9cfd3" stroke-width="0.18">1.13 (3,025.887)</text><text x="231.4" y="211.4" font-size="13" fill="#a4a7b0" text-anchor="end" font-weight="normal" dominant-baseline="central" textLength="78.5" lengthAdjust="spacingAndGlyphs" stroke="#a4a7b0" stroke-width="0.18">1 (2,798.122)</text><text x="245.7" y="211.4" font-size="13" fill="#a4a7b0" text-anchor="start" font-weight="normal" dominant-baseline="central" textLength="252.3" lengthAdjust="spacingAndGlyphs" stroke="#a4a7b0" stroke-width="0.18">Trump wins the presidential race, USD rallies</text><text x="231.4" y="322.6" font-size="13" fill="#f2b43a" text-anchor="end" font-weight="normal" dominant-baseline="central" textLength="105" lengthAdjust="spacingAndGlyphs" stroke="#f2b43a" stroke-width="0.18">0.618 (2,128.846)</text><text x="231.4" y="503.9" font-size="13" fill="#8f929b" text-anchor="end" font-weight="normal" dominant-baseline="central" textLength="79" lengthAdjust="spacingAndGlyphs" stroke="#8f929b" stroke-width="0.18">0 (1,046.089)</text><text x="244.9" y="503.9" font-size="13" fill="#8f929b" text-anchor="start" font-weight="normal" dominant-baseline="central" textLength="178.3" lengthAdjust="spacingAndGlyphs" stroke="#8f929b" stroke-width="0.18">2017 and 2018 Double-Bottom</text><circle cx="13" cy="14.9" r="8.8" fill="#cc9b2f"/><path d="M9.9 13.9L11.3 10.9H14.4L16.1 13.9Z M6.2 17.8L7.9 15H11L12.2 17.8Z M13.8 17.8L15 15H18.6L19.9 17.8Z" fill="#fff" stroke="#fff" stroke-width="0.4" stroke-linejoin="round"/><text x="26.4" y="15.3" font-size="15.6" fill="#131722" text-anchor="start" font-weight="normal" dominant-baseline="central" textLength="264.6" lengthAdjust="spacingAndGlyphs" stroke="#131722" stroke-width="0.18">Gold Spot / U.S. Dollar · 1W · OANDA</text><circle cx="308.5" cy="14.9" r="8.8" fill="#e2f0eb"/><circle cx="308.5" cy="14.9" r="4.1" fill="#3d9a80"/><text x="326" y="15.4" font-size="13.4" fill="#131722" text-anchor="start" font-weight="normal" dominant-baseline="central" textLength="9" lengthAdjust="spacingAndGlyphs" stroke="#131722" stroke-width="0.18">O</text><text x="337.7" y="15.4" font-size="13.4" fill="#6bcb8f" text-anchor="start" font-weight="normal" dominant-baseline="central" textLength="62.9" lengthAdjust="spacingAndGlyphs" stroke="#6bcb8f" stroke-width="0.18">3,764.745</text><text x="408" y="15.4" font-size="13.4" fill="#131722" text-anchor="start" font-weight="normal" dominant-baseline="central" textLength="8.6" lengthAdjust="spacingAndGlyphs" stroke="#131722" stroke-width="0.18">H</text><text x="419" y="15.4" font-size="13.4" fill="#6bcb8f" text-anchor="start" font-weight="normal" dominant-baseline="central" textLength="62.3" lengthAdjust="spacingAndGlyphs" stroke="#6bcb8f" stroke-width="0.18">3,871.890</text><text x="488.6" y="15.4" font-size="13.4" fill="#131722" text-anchor="start" font-weight="normal" dominant-baseline="central" textLength="7" lengthAdjust="spacingAndGlyphs" stroke="#131722" stroke-width="0.18">L</text><text x="497.5" y="15.4" font-size="13.4" fill="#6bcb8f" text-anchor="start" font-weight="normal" dominant-baseline="central" textLength="62.5" lengthAdjust="spacingAndGlyphs" stroke="#6bcb8f" stroke-width="0.18">3,763.450</text><text x="567.9" y="15.4" font-size="13.4" fill="#131722" text-anchor="start" font-weight="normal" dominant-baseline="central" textLength="9" lengthAdjust="spacingAndGlyphs" stroke="#131722" stroke-width="0.18">C</text><text x="577.9" y="15.4" font-size="13.4" fill="#6bcb8f" text-anchor="start" font-weight="normal" dominant-baseline="central" textLength="63.1" lengthAdjust="spacingAndGlyphs" stroke="#6bcb8f" stroke-width="0.18">3,844.440</text><text x="648.2" y="15.4" font-size="13.4" fill="#6bcb8f" text-anchor="start" font-weight="normal" dominant-baseline="central" textLength="113.2" lengthAdjust="spacingAndGlyphs" stroke="#6bcb8f" stroke-width="0.18">+84.585 (+2.25%)</text><text x="4" y="39.2" font-size="13.4" fill="#b2b5be" text-anchor="start" font-weight="normal" dominant-baseline="central" textLength="61" lengthAdjust="spacingAndGlyphs" stroke="#b2b5be" stroke-width="0.18">Vol · Ticks</text><g transform="translate(83.7 38.9)" fill="none" stroke-linecap="butt"><ellipse cx="0" cy="0" rx="7.6" ry="5.5" stroke="#1a1a1a" stroke-width="1.3"/><circle cx="0.2" cy="0.3" r="2.5" stroke="#1a1a1a" stroke-width="1.3"/><path d="M-5.0 3.5L4.0 -5.5" stroke="#ffffff" stroke-opacity="0.9" stroke-width="1.6"/><path d="M-5.6 5.9L5.9 -5.5" stroke="#1a1a1a" stroke-width="1.3"/></g><text x="4" y="63.6" font-size="13.4" fill="#b2b5be" text-anchor="start" font-weight="normal" dominant-baseline="central" textLength="26" lengthAdjust="spacingAndGlyphs" stroke="#b2b5be" stroke-width="0.18">MAs</text><g transform="translate(48.5 63.1)" fill="none" stroke-linecap="butt"><ellipse cx="0" cy="0" rx="7.6" ry="5.5" stroke="#1a1a1a" stroke-width="1.3"/><circle cx="0.2" cy="0.3" r="2.5" stroke="#1a1a1a" stroke-width="1.3"/><path d="M-5.0 3.5L4.0 -5.5" stroke="#ffffff" stroke-opacity="0.9" stroke-width="1.6"/><path d="M-5.6 5.9L5.9 -5.5" stroke="#1a1a1a" stroke-width="1.3"/></g><rect x="4" y="79" width="27.4" height="19.6" rx="3" fill="#fff" stroke="#e0e3eb" stroke-width="1"/><path d="M14 90.5l3.6-3.6 3.6 3.6" fill="none" stroke="#131722" stroke-width="1.6" stroke-linecap="round" stroke-linejoin="round"/><text x="1334.6" y="9.4" font-size="13.2" fill="#131722" text-anchor="start" font-weight="normal" dominant-baseline="central" textLength="58.6" lengthAdjust="spacingAndGlyphs" stroke="#131722" stroke-width="0.18">4,000.000</text><text x="1334.6" y="76.2" font-size="13.2" fill="#131722" text-anchor="start" font-weight="normal" dominant-baseline="central" textLength="58.6" lengthAdjust="spacingAndGlyphs" stroke="#131722" stroke-width="0.18">3,600.000</text><text x="1334.6" y="109.6" font-size="13.2" fill="#131722" text-anchor="start" font-weight="normal" dominant-baseline="central" textLength="58.6" lengthAdjust="spacingAndGlyphs" stroke="#131722" stroke-width="0.18">3,400.000</text><text x="1334.6" y="143.0" font-size="13.2" fill="#131722" text-anchor="start" font-weight="normal" dominant-baseline="central" textLength="58.6" lengthAdjust="spacingAndGlyphs" stroke="#131722" stroke-width="0.18">3,200.000</text><text x="1334.6" y="176.4" font-size="13.2" fill="#131722" text-anchor="start" font-weight="normal" dominant-baseline="central" textLength="58.6" lengthAdjust="spacingAndGlyphs" stroke="#131722" stroke-width="0.18">3,000.000</text><text x="1334.6" y="209.8" font-size="13.2" fill="#131722" text-anchor="start" font-weight="normal" dominant-baseline="central" textLength="58.6" lengthAdjust="spacingAndGlyphs" stroke="#131722" stroke-width="0.18">2,800.000</text><text x="1334.6" y="243.2" font-size="13.2" fill="#131722" text-anchor="start" font-weight="normal" dominant-baseline="central" textLength="58.6" lengthAdjust="spacingAndGlyphs" stroke="#131722" stroke-width="0.18">2,600.000</text><text x="1334.6" y="276.6" font-size="13.2" fill="#131722" text-anchor="start" font-weight="normal" dominant-baseline="central" textLength="58.6" lengthAdjust="spacingAndGlyphs" stroke="#131722" stroke-width="0.18">2,400.000</text><text x="1334.6" y="310.0" font-size="13.2" fill="#131722" text-anchor="start" font-weight="normal" dominant-baseline="central" textLength="58.6" lengthAdjust="spacingAndGlyphs" stroke="#131722" stroke-width="0.18">2,200.000</text><text x="1334.6" y="343.4" font-size="13.2" fill="#131722" text-anchor="start" font-weight="normal" dominant-baseline="central" textLength="58.6" lengthAdjust="spacingAndGlyphs" stroke="#131722" stroke-width="0.18">2,000.000</text><text x="1334.6" y="376.8" font-size="13.2" fill="#131722" text-anchor="start" font-weight="normal" dominant-baseline="central" textLength="58.6" lengthAdjust="spacingAndGlyphs" stroke="#131722" stroke-width="0.18">1,800.000</text><text x="1334.6" y="410.2" font-size="13.2" fill="#131722" text-anchor="start" font-weight="normal" dominant-baseline="central" textLength="58.6" lengthAdjust="spacingAndGlyphs" stroke="#131722" stroke-width="0.18">1,600.000</text><text x="1334.6" y="443.6" font-size="13.2" fill="#131722" text-anchor="start" font-weight="normal" dominant-baseline="central" textLength="58.6" lengthAdjust="spacingAndGlyphs" stroke="#131722" stroke-width="0.18">1,400.000</text><text x="1334.6" y="477.0" font-size="13.2" fill="#131722" text-anchor="start" font-weight="normal" dominant-baseline="central" textLength="58.6" lengthAdjust="spacingAndGlyphs" stroke="#131722" stroke-width="0.18">1,200.000</text><text x="1334.6" y="510.4" font-size="13.2" fill="#131722" text-anchor="start" font-weight="normal" dominant-baseline="central" textLength="58.6" lengthAdjust="spacingAndGlyphs" stroke="#131722" stroke-width="0.18">1,000.000</text><path d="M1328 10.6H1400V27.4H1328a2 2 0 0 1 -2 -2V12.6a2 2 0 0 1 2 -2z" fill="#e8345e"/><text x="1334.6" y="19.0" font-size="13.2" fill="#fff" text-anchor="start" font-weight="normal" dominant-baseline="central" textLength="58.6" lengthAdjust="spacingAndGlyphs" stroke="#fff" stroke-width="0.18">3,886.004</text><path d="M1328 27.4H1400V58.3H1328a2 2 0 0 1 -2 -2V29.4a2 2 0 0 1 2 -2z" fill="#5bc882"/><text x="1334.6" y="35.2" font-size="13.2" fill="#0f2a1a" text-anchor="start" font-weight="normal" dominant-baseline="central" textLength="58.6" lengthAdjust="spacingAndGlyphs" stroke="#0f2a1a" stroke-width="0.18">3,844.440</text><text x="1334.6" y="49.6" font-size="13.2" fill="#0f2a1a" text-anchor="start" font-weight="normal" dominant-baseline="central" textLength="31.5" lengthAdjust="spacingAndGlyphs" stroke="#0f2a1a" stroke-width="0.18">3d 5h</text><path d="M1328 147.6H1400V163.79999999999998H1328a2 2 0 0 1 -2 -2V149.6a2 2 0 0 1 2 -2z" fill="#0c1f47"/><text x="1334.6" y="155.89999999999998" font-size="13.2" fill="#fff" text-anchor="start" font-weight="normal" dominant-baseline="central" textLength="58.6" lengthAdjust="spacingAndGlyphs" stroke="#fff" stroke-width="0.18">3,123.863</text><path d="M1328 322.0H1400V338.20000000000005H1328a2 2 0 0 1 -2 -2V324.0a2 2 0 0 1 2 -2z" fill="#0c1f47"/><text x="1334.6" y="330.3" font-size="13.2" fill="#fff" text-anchor="start" font-weight="normal" dominant-baseline="central" textLength="58.6" lengthAdjust="spacingAndGlyphs" stroke="#fff" stroke-width="0.18">2,081.203</text><path d="M1328 427.2H1400V443.40000000000003H1328a2 2 0 0 1 -2 -2V429.2a2 2 0 0 1 2 -2z" fill="#0c1f47"/><text x="1334.6" y="435.5" font-size="13.2" fill="#fff" text-anchor="start" font-weight="normal" dominant-baseline="central" textLength="58.6" lengthAdjust="spacingAndGlyphs" stroke="#fff" stroke-width="0.18">1,451.432</text><path d="M1328 475.79999999999995H1400V492.0H1328a2 2 0 0 1 -2 -2V477.79999999999995a2 2 0 0 1 2 -2z" fill="#0c1f47"/><text x="1334.6" y="484.09999999999997" font-size="13.2" fill="#fff" text-anchor="start" font-weight="normal" dominant-baseline="central" textLength="58.6" lengthAdjust="spacingAndGlyphs" stroke="#fff" stroke-width="0.18">1,160.324</text><rect x="0" y="532.3" width="1400" height="1" fill="#e0e3eb"/><text x="4.3" y="550.7" font-size="13.4" fill="#131722" text-anchor="start" font-weight="normal" dominant-baseline="central" textLength="19" lengthAdjust="spacingAndGlyphs" stroke="#131722" stroke-width="0.18">RSI</text><text x="28.3" y="550.7" font-size="13.4" fill="#787b86" text-anchor="start" font-weight="normal" dominant-baseline="central" textLength="50.7" lengthAdjust="spacingAndGlyphs" stroke="#787b86" stroke-width="0.18">14 close</text><text x="88.3" y="550.7" font-size="13.4" fill="#7e57c2" text-anchor="start" font-weight="normal" dominant-baseline="central" textLength="34.4" lengthAdjust="spacingAndGlyphs" stroke="#7e57c2" stroke-width="0.18">78.44</text><rect x="0" y="600.3" width="1325" height="121.7" fill="#f2eef9"/><defs><linearGradient id="gu" gradientUnits="userSpaceOnUse" x1="0" y1="509.1" x2="0" y2="600.3"><stop offset="0" stop-color="#4caf50" stop-opacity="1"/><stop offset="1" stop-color="#4caf50" stop-opacity="0"/></linearGradient><linearGradient id="gd" gradientUnits="userSpaceOnUse" x1="0" y1="722" x2="0" y2="813"><stop offset="0" stop-color="#f23645" stop-opacity="0"/><stop offset="1" stop-color="#f23645" stop-opacity="1"/></linearGradient></defs><path d="M40.6 600.0 L41.1 598.8 L41.3 600.0ZM374.6 600.0 L374.6 599.9 L374.7 600.0ZM379.2 600.0 L379.2 599.9 L381.5 595.8 L381.9 600.0ZM422.2 600.0 L423.8 581.5 L426.5 578.5 L429.1 588.8 L431.4 584.7 L433.7 579.6 L436.5 587.7 L438.8 577.3 L441.5 563.0 L443.9 558.8 L446.6 556.1 L448.9 564.6 L451.2 576.2 L453.8 596.9 L456.5 587.7 L458.1 600.0ZM494.2 600.0 L494.2 599.9 L496.5 595.8 L499.2 599.9 L501.6 594.6 L503.9 587.7 L505.0 600.0ZM508.3 600.0 L510.5 580.1 L512.3 591.2 L512.8 600.0ZM515.6 600.0 L515.8 596.9 L516.0 600.0ZM564.3 600.0 L565.9 590.0 L568.2 575.0 L571.2 567.4 L573.2 600.0ZM776.4 600.0 L777.4 598.5 L777.5 600.0ZM1042.6 600.0 L1043.5 593.5 L1046.5 578.5 L1048.8 575.0 L1051.2 569.9 L1053.5 595.8 L1054.3 600.0ZM1058.4 600.0 L1058.8 598.1 L1061.1 590.7 L1061.8 600.0ZM1092.6 600.0 L1093.4 596.2 L1095.7 595.3 L1098.0 598.5 L1098.9 600.0ZM1100.7 600.0 L1103.1 587.7 L1105.4 579.6 L1108.2 574.5 L1110.5 576.2 L1112.8 575.7 L1115.1 566.9 L1118.1 563.5 L1120.4 569.2 L1123.2 595.8 L1123.4 600.0ZM1153.7 600.0 L1155.0 593.5 L1157.3 590.0 L1160.0 581.9 L1161.4 600.0ZM1165.3 600.0 L1167.4 592.3 L1169.7 586.5 L1172.2 580.1 L1175.0 596.2 L1178.0 573.8 L1180.3 568.1 L1182.4 569.9 L1184.7 586.5 L1185.8 593.5 L1187.7 585.4 L1188.8 600.0ZM1192.3 600.0 L1192.3 599.9 L1192.3 600.0ZM1200.4 600.0 L1200.4 599.9 L1200.4 600.0ZM1229.6 600.0 L1229.7 599.2 L1232.2 593.5 L1235.0 587.7 L1237.3 581.9 L1239.6 574.3 L1239.6 600.0Z" fill="url(#gu)"/><path d="M308.7 722.0 L309.6 723.9 L312.4 725.0 L314.7 738.2 L316.6 722.0Z" fill="url(#gd)"/><path d="M6.10 600.3H11.00M17.12 600.3H22.02M28.14 600.3H33.04M39.16 600.3H44.06M50.18 600.3H55.08M61.20 600.3H66.10M72.22 600.3H77.12M83.24 600.3H88.14M94.26 600.3H99.16M105.28 600.3H110.18M116.30 600.3H121.20M127.32 600.3H132.22M138.34 600.3H143.24M149.36 600.3H154.26M160.38 600.3H165.28M171.40 600.3H176.30M182.42 600.3H187.32M193.44 600.3H198.34M204.46 600.3H209.36M215.48 600.3H220.38M226.50 600.3H231.40M237.52 600.3H242.42M248.54 600.3H253.44M259.56 600.3H264.46M270.58 600.3H275.48M281.60 600.3H286.50M292.62 600.3H297.52M303.64 600.3H308.54M314.66 600.3H319.56M325.68 600.3H330.58M336.70 600.3H341.60M347.72 600.3H352.62M358.74 600.3H363.64M369.76 600.3H374.66M380.78 600.3H385.68M391.80 600.3H396.70M402.82 600.3H407.72M413.84 600.3H418.74M424.86 600.3H429.76M435.88 600.3H440.78M446.90 600.3H451.80M457.92 600.3H462.82M468.94 600.3H473.84M479.96 600.3H484.86M490.98 600.3H495.88M502.00 600.3H506.90M513.02 600.3H517.92M524.04 600.3H528.94M535.06 600.3H539.96M546.08 600.3H550.98M557.10 600.3H562.00M568.12 600.3H573.02M579.14 600.3H584.04M590.16 600.3H595.06M601.18 600.3H606.08M612.20 600.3H617.10M623.22 600.3H628.12M634.24 600.3H639.14M645.26 600.3H650.16M656.28 600.3H661.18M667.30 600.3H672.20M678.32 600.3H683.22M689.34 600.3H694.24M700.36 600.3H705.26M711.38 600.3H716.28M722.40 600.3H727.30M733.42 600.3H738.32M744.44 600.3H749.34M755.46 600.3H760.36M766.48 600.3H771.38M777.50 600.3H782.40M788.52 600.3H793.42M799.54 600.3H804.44M810.56 600.3H815.46M821.58 600.3H826.48M832.60 600.3H837.50M843.62 600.3H848.52M854.64 600.3H859.54M865.66 600.3H870.56M876.68 600.3H881.58M887.70 600.3H892.60M898.72 600.3H903.62M909.74 600.3H914.64M920.76 600.3H925.66M931.78 600.3H936.68M942.80 600.3H947.70M953.82 600.3H958.72M964.84 600.3H969.74M975.86 600.3H980.76M986.88 600.3H991.78M997.90 600.3H1002.80M1008.92 600.3H1013.82M1019.94 600.3H1024.84M1030.96 600.3H1035.86M1041.98 600.3H1046.88M1053.00 600.3H1057.90M1064.02 600.3H1068.92M1075.04 600.3H1079.94M1086.06 600.3H1090.96M1097.08 600.3H1101.98M1108.10 600.3H1113.00M1119.12 600.3H1124.02M1130.14 600.3H1135.04M1141.16 600.3H1146.06M1152.18 600.3H1157.08M1163.20 600.3H1168.10M1174.22 600.3H1179.12M1185.24 600.3H1190.14M1196.26 600.3H1201.16M1207.28 600.3H1212.18M1218.30 600.3H1223.20M1229.32 600.3H1234.22M1240.34 600.3H1245.24M1251.36 600.3H1256.26M1262.38 600.3H1267.28M1273.40 600.3H1278.30M1284.42 600.3H1289.32M1295.44 600.3H1300.34M1306.46 600.3H1311.36M1317.48 600.3H1322.38M6.10 722.0H11.00M17.12 722.0H22.02M28.14 722.0H33.04M39.16 722.0H44.06M50.18 722.0H55.08M61.20 722.0H66.10M72.22 722.0H77.12M83.24 722.0H88.14M94.26 722.0H99.16M105.28 722.0H110.18M116.30 722.0H121.20M127.32 722.0H132.22M138.34 722.0H143.24M149.36 722.0H154.26M160.38 722.0H165.28M171.40 722.0H176.30M182.42 722.0H187.32M193.44 722.0H198.34M204.46 722.0H209.36M215.48 722.0H220.38M226.50 722.0H231.40M237.52 722.0H242.42M248.54 722.0H253.44M259.56 722.0H264.46M270.58 722.0H275.48M281.60 722.0H286.50M292.62 722.0H297.52M303.64 722.0H308.54M314.66 722.0H319.56M325.68 722.0H330.58M336.70 722.0H341.60M347.72 722.0H352.62M358.74 722.0H363.64M369.76 722.0H374.66M380.78 722.0H385.68M391.80 722.0H396.70M402.82 722.0H407.72M413.84 722.0H418.74M424.86 722.0H429.76M435.88 722.0H440.78M446.90 722.0H451.80M457.92 722.0H462.82M468.94 722.0H473.84M479.96 722.0H484.86M490.98 722.0H495.88M502.00 722.0H506.90M513.02 722.0H517.92M524.04 722.0H528.94M535.06 722.0H539.96M546.08 722.0H550.98M557.10 722.0H562.00M568.12 722.0H573.02M579.14 722.0H584.04M590.16 722.0H595.06M601.18 722.0H606.08M612.20 722.0H617.10M623.22 722.0H628.12M634.24 722.0H639.14M645.26 722.0H650.16M656.28 722.0H661.18M667.30 722.0H672.20M678.32 722.0H683.22M689.34 722.0H694.24M700.36 722.0H705.26M711.38 722.0H716.28M722.40 722.0H727.30M733.42 722.0H738.32M744.44 722.0H749.34M755.46 722.0H760.36M766.48 722.0H771.38M777.50 722.0H782.40M788.52 722.0H793.42M799.54 722.0H804.44M810.56 722.0H815.46M821.58 722.0H826.48M832.60 722.0H837.50M843.62 722.0H848.52M854.64 722.0H859.54M865.66 722.0H870.56M876.68 722.0H881.58M887.70 722.0H892.60M898.72 722.0H903.62M909.74 722.0H914.64M920.76 722.0H925.66M931.78 722.0H936.68M942.80 722.0H947.70M953.82 722.0H958.72M964.84 722.0H969.74M975.86 722.0H980.76M986.88 722.0H991.78M997.90 722.0H1002.80M1008.92 722.0H1013.82M1019.94 722.0H1024.84M1030.96 722.0H1035.86M1041.98 722.0H1046.88M1053.00 722.0H1057.90M1064.02 722.0H1068.92M1075.04 722.0H1079.94M1086.06 722.0H1090.96M1097.08 722.0H1101.98M1108.10 722.0H1113.00M1119.12 722.0H1124.02M1130.14 722.0H1135.04M1141.16 722.0H1146.06M1152.18 722.0H1157.08M1163.20 722.0H1168.10M1174.22 722.0H1179.12M1185.24 722.0H1190.14M1196.26 722.0H1201.16M1207.28 722.0H1212.18M1218.30 722.0H1223.20M1229.32 722.0H1234.22M1240.34 722.0H1245.24M1251.36 722.0H1256.26M1262.38 722.0H1267.28M1273.40 722.0H1278.30M1284.42 722.0H1289.32M1295.44 722.0H1300.34M1306.46 722.0H1311.36M1317.48 722.0H1322.38" stroke="#787b86" stroke-width="1" fill="none"/><path d="M6.10 660.8H11.00M17.12 660.8H22.02M28.14 660.8H33.04M39.16 660.8H44.06M50.18 660.8H55.08M61.20 660.8H66.10M72.22 660.8H77.12M83.24 660.8H88.14M94.26 660.8H99.16M105.28 660.8H110.18M116.30 660.8H121.20M127.32 660.8H132.22M138.34 660.8H143.24M149.36 660.8H154.26M160.38 660.8H165.28M171.40 660.8H176.30M182.42 660.8H187.32M193.44 660.8H198.34M204.46 660.8H209.36M215.48 660.8H220.38M226.50 660.8H231.40M237.52 660.8H242.42M248.54 660.8H253.44M259.56 660.8H264.46M270.58 660.8H275.48M281.60 660.8H286.50M292.62 660.8H297.52M303.64 660.8H308.54M314.66 660.8H319.56M325.68 660.8H330.58M336.70 660.8H341.60M347.72 660.8H352.62M358.74 660.8H363.64M369.76 660.8H374.66M380.78 660.8H385.68M391.80 660.8H396.70M402.82 660.8H407.72M413.84 660.8H418.74M424.86 660.8H429.76M435.88 660.8H440.78M446.90 660.8H451.80M457.92 660.8H462.82M468.94 660.8H473.84M479.96 660.8H484.86M490.98 660.8H495.88M502.00 660.8H506.90M513.02 660.8H517.92M524.04 660.8H528.94M535.06 660.8H539.96M546.08 660.8H550.98M557.10 660.8H562.00M568.12 660.8H573.02M579.14 660.8H584.04M590.16 660.8H595.06M601.18 660.8H606.08M612.20 660.8H617.10M623.22 660.8H628.12M634.24 660.8H639.14M645.26 660.8H650.16M656.28 660.8H661.18M667.30 660.8H672.20M678.32 660.8H683.22M689.34 660.8H694.24M700.36 660.8H705.26M711.38 660.8H716.28M722.40 660.8H727.30M733.42 660.8H738.32M744.44 660.8H749.34M755.46 660.8H760.36M766.48 660.8H771.38M777.50 660.8H782.40M788.52 660.8H793.42M799.54 660.8H804.44M810.56 660.8H815.46M821.58 660.8H826.48M832.60 660.8H837.50M843.62 660.8H848.52M854.64 660.8H859.54M865.66 660.8H870.56M876.68 660.8H881.58M887.70 660.8H892.60M898.72 660.8H903.62M909.74 660.8H914.64M920.76 660.8H925.66M931.78 660.8H936.68M942.80 660.8H947.70M953.82 660.8H958.72M964.84 660.8H969.74M975.86 660.8H980.76M986.88 660.8H991.78M997.90 660.8H1002.80M1008.92 660.8H1013.82M1019.94 660.8H1024.84M1030.96 660.8H1035.86M1041.98 660.8H1046.88M1053.00 660.8H1057.90M1064.02 660.8H1068.92M1075.04 660.8H1079.94M1086.06 660.8H1090.96M1097.08 660.8H1101.98M1108.10 660.8H1113.00M1119.12 660.8H1124.02M1130.14 660.8H1135.04M1141.16 660.8H1146.06M1152.18 660.8H1157.08M1163.20 660.8H1168.10M1174.22 660.8H1179.12M1185.24 660.8H1190.14M1196.26 660.8H1201.16M1207.28 660.8H1212.18M1218.30 660.8H1223.20M1229.32 660.8H1234.22M1240.34 660.8H1245.24M1251.36 660.8H1256.26M1262.38 660.8H1267.28M1273.40 660.8H1278.30M1284.42 660.8H1289.32M1295.44 660.8H1300.34M1306.46 660.8H1311.36M1317.48 660.8H1322.38" stroke="#bcbec4" stroke-width="1" fill="none"/><path d="M0.0 608.5 L1.8 608.5 L3.5 633.4 L6.5 631.5 L8.8 624.6 L11.1 628.1 L13.8 628.8 L15.7 605.0 L18.5 608.9 L21.2 621.2 L23.8 633.9 L25.8 656.9 L28.2 645.4 L31.2 629.2 L34.6 617.7 L38.1 607.3 L41.1 598.8 L43.4 610.8 L46.2 626.2 L48.9 616.5 L51.2 625.8 L54.2 625.8 L56.1 623.5 L58.9 637.3 L61.2 635.0 L63.5 634.3 L66.2 646.5 L68.8 632.0 L71.1 647.7 L73.9 678.9 L76.2 681.9 L78.5 673.1 L80.8 667.3 L83.1 651.2 L85.9 686.9 L88.4 696.2 L91.2 703.5 L94.6 708.9 L96.9 713.5 L98.8 720.4 L101.1 720.9 L103.9 705.4 L106.6 689.2 L108.5 677.2 L111.2 670.3 L113.1 679.3 L115.4 667.3 L118.2 655.8 L120.5 654.6 L123.0 643.1 L125.3 655.8 L128.1 672.6 L130.9 660.4 L133.4 652.3 L136.2 648.9 L138.5 645.4 L141.2 628.8 L143.5 631.5 L145.9 646.5 L148.9 667.3 L150.7 667.8 L153.5 651.2 L155.8 643.1 L158.1 638.5 L160.9 648.9 L163.4 654.6 L165.2 654.6 L167.8 661.5 L170.0 682.3 L172.8 671.9 L175.1 653.5 L178.1 645.4 L180.4 652.3 L183.4 635.0 L185.7 638.5 L188.5 633.9 L190.3 617.7 L193.1 608.0 L195.4 629.2 L197.7 643.1 L200.0 655.8 L203.5 658.1 L205.3 643.1 L208.1 659.2 L212.2 664.3 L215.0 660.4 L217.3 648.2 L219.6 651.2 L222.4 658.1 L225.4 680.0 L228.4 668.5 L230.5 659.2 L232.3 640.8 L235.1 631.5 L237.4 622.8 L240.4 628.1 L242.2 619.3 L244.3 629.2 L247.3 645.9 L250.3 628.8 L253.1 643.1 L255.9 647.2 L257.7 646.5 L260.5 653.5 L262.3 633.4 L265.3 650.0 L268.1 643.1 L270.4 638.0 L273.4 650.0 L276.6 660.4 L279.6 659.2 L282.4 677.7 L284.7 670.8 L287.2 675.4 L289.5 671.9 L292.3 684.6 L294.6 692.7 L297.4 702.4 L299.2 700.8 L302.0 707.7 L304.3 714.2 L307.3 719.2 L309.6 723.9 L312.4 725.0 L314.7 738.2 L317.7 713.0 L321.2 715.8 L324.2 719.2 L327.6 713.0 L329.7 716.9 L332.2 703.1 L334.6 683.5 L337.3 674.2 L339.6 665.7 L342.8 666.2 L344.6 688.1 L346.5 675.4 L348.8 673.1 L351.5 673.5 L354.3 646.1 L356.6 655.8 L359.6 639.6 L361.9 620.0 L364.2 617.7 L366.5 615.9 L369.5 623.0 L371.8 607.3 L374.6 599.9 L376.9 603.9 L379.2 599.9 L381.5 595.8 L385.0 639.2 L387.3 635.0 L389.6 632.2 L391.9 623.9 L394.7 647.2 L397.2 648.9 L399.5 650.0 L401.9 665.5 L404.2 655.8 L406.5 661.5 L409.2 655.8 L412.0 663.9 L414.3 653.5 L416.6 637.3 L419.2 610.8 L421.5 609.2 L423.8 581.5 L426.5 578.5 L429.1 588.8 L431.4 584.7 L433.7 579.6 L436.5 587.7 L438.8 577.3 L441.5 563.0 L443.9 558.8 L446.6 556.1 L448.9 564.6 L451.2 576.2 L453.8 596.9 L456.5 587.7 L458.9 605.5 L461.2 604.5 L464.2 616.5 L466.5 616.1 L468.8 609.6 L471.5 605.0 L473.9 650.7 L476.6 645.4 L478.5 648.9 L481.2 648.9 L483.5 651.2 L485.9 640.8 L488.4 639.2 L491.2 618.9 L494.2 599.9 L496.5 595.8 L499.2 599.9 L501.6 594.6 L503.9 587.7 L505.7 606.9 L508.0 602.2 L510.5 580.1 L512.3 591.2 L513.9 623.5 L515.8 596.9 L517.4 621.2 L518.8 660.4 L520.8 670.8 L522.7 650.0 L524.3 635.0 L526.2 637.3 L528.9 623.5 L531.2 622.3 L533.5 613.5 L535.8 623.5 L538.8 623.5 L541.2 614.2 L543.5 617.0 L546.2 620.0 L548.5 638.5 L551.5 625.8 L554.3 620.0 L556.6 615.4 L558.9 613.1 L561.2 608.5 L563.5 605.0 L565.9 590.0 L568.2 575.0 L571.2 567.4 L573.5 605.0 L576.2 607.3 L578.5 602.7 L581.5 614.7 L583.9 613.1 L586.2 611.9 L588.5 646.1 L590.8 637.3 L593.5 628.5 L596.1 639.2 L598.2 639.2 L601.2 647.7 L603.5 628.1 L605.8 646.5 L608.8 655.8 L611.1 678.9 L613.4 663.9 L615.7 662.7 L618.5 651.6 L620.8 651.2 L623.1 646.5 L625.4 662.7 L628.2 669.2 L630.0 660.4 L632.3 662.7 L635.1 673.8 L638.1 670.8 L640.4 683.5 L642.7 695.0 L645.5 704.9 L647.8 696.2 L650.3 687.4 L653.1 690.4 L655.4 691.5 L657.7 685.3 L660.5 669.6 L662.8 669.2 L665.1 671.5 L667.9 645.4 L670.2 639.6 L672.7 628.1 L675.5 620.0 L678.0 624.6 L680.0 631.5 L681.2 637.3 L682.3 681.2 L684.6 675.4 L687.4 670.8 L689.7 663.9 L692.0 660.9 L694.3 663.9 L695.7 665.0 L697.3 660.4 L698.9 673.1 L700.8 681.2 L702.6 674.2 L704.9 673.1 L707.2 654.6 L710.0 651.2 L712.3 669.6 L714.6 681.2 L717.4 684.6 L719.2 682.3 L721.1 678.9 L722.7 680.0 L725.0 675.4 L727.3 660.4 L730.3 665.0 L732.6 645.4 L735.4 626.9 L737.7 641.9 L740.5 665.0 L742.8 668.5 L745.8 669.2 L748.1 660.4 L750.4 653.5 L752.7 645.9 L755.0 662.7 L757.3 653.5 L759.6 644.7 L762.6 666.9 L764.9 655.8 L767.2 639.6 L769.5 623.5 L772.3 626.9 L774.6 602.7 L777.4 598.5 L779.7 632.2 L782.7 622.3 L785.0 636.2 L787.3 631.5 L789.6 622.8 L791.9 636.2 L794.2 653.5 L797.2 659.2 L800.0 683.5 L802.3 671.9 L804.6 668.5 L806.9 669.2 L809.7 660.4 L812.0 669.6 L815.0 677.7 L816.9 683.5 L819.6 699.6 L821.9 713.5 L824.9 703.1 L827.2 685.3 L830.0 682.3 L831.9 670.1 L834.6 688.1 L836.9 692.2 L839.2 697.3 L841.6 696.9 L844.3 707.7 L846.6 716.9 L850.0 707.7 L851.8 690.9 L854.2 705.4 L856.5 699.2 L859.2 703.1 L861.5 682.3 L864.5 650.0 L866.6 656.9 L869.6 656.2 L871.9 641.5 L874.2 640.8 L877.2 643.1 L880.0 639.6 L882.3 629.2 L884.6 618.9 L886.9 602.7 L889.2 600.4 L891.5 600.4 L893.8 634.5 L896.6 635.5 L899.2 647.7 L901.9 659.9 L904.2 643.1 L906.5 638.5 L908.9 605.0 L911.2 607.3 L914.2 613.1 L916.9 604.5 L919.2 607.3 L922.0 617.0 L924.3 614.2 L926.9 607.8 L929.2 611.9 L931.5 626.9 L933.8 644.9 L936.5 644.7 L938.9 639.6 L941.9 641.9 L944.2 660.4 L946.5 661.5 L948.8 658.1 L951.1 646.5 L953.9 640.1 L956.2 641.9 L958.9 653.5 L961.2 670.8 L963.8 682.3 L966.5 665.0 L968.9 653.5 L971.2 664.5 L974.2 662.7 L976.5 661.5 L978.8 697.3 L981.1 704.2 L983.4 673.1 L985.7 637.3 L988.5 628.5 L990.8 635.5 L993.5 658.1 L996.1 643.1 L998.4 637.3 L1001.2 617.0 L1004.2 643.1 L1006.5 637.3 L1009.2 629.9 L1011.1 628.1 L1013.9 635.0 L1016.2 633.9 L1018.5 640.8 L1020.0 646.5 L1021.2 647.0 L1023.0 640.1 L1025.8 646.5 L1028.1 651.6 L1030.8 641.9 L1033.2 623.5 L1036.2 600.4 L1038.5 611.9 L1041.2 609.2 L1043.5 593.5 L1046.5 578.5 L1048.8 575.0 L1051.2 569.9 L1053.5 595.8 L1056.2 609.6 L1058.8 598.1 L1061.1 590.7 L1063.4 620.0 L1066.2 623.5 L1068.5 633.2 L1071.2 625.8 L1073.5 628.8 L1075.9 628.1 L1078.2 614.2 L1081.2 609.6 L1083.5 613.8 L1086.2 618.9 L1088.5 607.3 L1090.4 610.8 L1093.4 596.2 L1095.7 595.3 L1098.0 598.5 L1100.3 602.2 L1103.1 587.7 L1105.4 579.6 L1108.2 574.5 L1110.5 576.2 L1112.8 575.7 L1115.1 566.9 L1118.1 563.5 L1120.4 569.2 L1123.2 595.8 L1125.5 645.4 L1128.0 614.2 L1130.8 633.2 L1133.1 637.3 L1135.4 635.0 L1138.2 641.9 L1140.5 642.4 L1143.0 638.5 L1145.3 626.2 L1147.6 623.5 L1150.4 609.6 L1152.7 605.0 L1155.0 593.5 L1157.3 590.0 L1160.0 581.9 L1162.3 611.9 L1164.6 602.7 L1167.4 592.3 L1169.7 586.5 L1172.2 580.1 L1175.0 596.2 L1178.0 573.8 L1180.3 568.1 L1182.4 569.9 L1184.7 586.5 L1185.8 593.5 L1187.7 585.4 L1190.0 616.1 L1192.3 599.9 L1195.1 613.8 L1197.4 611.5 L1200.4 599.9 L1202.7 615.4 L1205.5 631.5 L1207.8 624.6 L1210.8 621.6 L1213.1 623.5 L1215.9 625.8 L1218.2 621.2 L1220.5 617.0 L1222.8 632.7 L1225.3 624.6 L1227.6 614.2 L1229.7 599.2 L1232.2 593.5 L1235.0 587.7 L1237.3 581.9 L1239.6 574.3" fill="none" stroke="#7e57c2" stroke-width="1.1" stroke-linejoin="round"/><text x="1334.5" y="539.5" font-size="13.2" fill="#131722" text-anchor="start" font-weight="normal" dominant-baseline="central" textLength="32.4" lengthAdjust="spacingAndGlyphs" stroke="#131722" stroke-width="0.18">90.00</text><text x="1334.5" y="569.9" font-size="13.2" fill="#131722" text-anchor="start" font-weight="normal" dominant-baseline="central" textLength="32.4" lengthAdjust="spacingAndGlyphs" stroke="#131722" stroke-width="0.18">80.00</text><text x="1334.5" y="600.3" font-size="13.2" fill="#131722" text-anchor="start" font-weight="normal" dominant-baseline="central" textLength="32.4" lengthAdjust="spacingAndGlyphs" stroke="#131722" stroke-width="0.18">70.00</text><text x="1334.5" y="630.7" font-size="13.2" fill="#131722" text-anchor="start" font-weight="normal" dominant-baseline="central" textLength="32.4" lengthAdjust="spacingAndGlyphs" stroke="#131722" stroke-width="0.18">60.00</text><text x="1334.5" y="661.1" font-size="13.2" fill="#131722" text-anchor="start" font-weight="normal" dominant-baseline="central" textLength="32.4" lengthAdjust="spacingAndGlyphs" stroke="#131722" stroke-width="0.18">50.00</text><text x="1334.5" y="691.5" font-size="13.2" fill="#131722" text-anchor="start" font-weight="normal" dominant-baseline="central" textLength="32.4" lengthAdjust="spacingAndGlyphs" stroke="#131722" stroke-width="0.18">40.00</text><text x="1334.5" y="721.9" font-size="13.2" fill="#131722" text-anchor="start" font-weight="normal" dominant-baseline="central" textLength="32.4" lengthAdjust="spacingAndGlyphs" stroke="#131722" stroke-width="0.18">30.00</text><text x="1334.5" y="752.3" font-size="13.2" fill="#131722" text-anchor="start" font-weight="normal" dominant-baseline="central" textLength="32.4" lengthAdjust="spacingAndGlyphs" stroke="#131722" stroke-width="0.18">20.00</text><path d="M1328 566.7H1370.7a2 2 0 0 1 2 2V580.7a2 2 0 0 1 -2 2H1328a2 2 0 0 1 -2 -2V568.7a2 2 0 0 1 2 -2z" fill="#7e57c2"/><text x="1334.6" y="574.8" font-size="13.2" fill="#fff" text-anchor="start" font-weight="normal" dominant-baseline="central" textLength="32.4" lengthAdjust="spacingAndGlyphs" stroke="#fff" stroke-width="0.18">78.44</text><g fill="#131722"><path d="M7 729H18.8V743.7H13.1V734.7H7Z"/><circle cx="24" cy="731.9" r="2.9"/><path d="M30.3 729H36.8L30.9 743.7H24.2Z"/></g><text x="41" y="772.5" font-size="13.2" fill="#131722" text-anchor="middle" font-weight="normal" dominant-baseline="central" textLength="15.5" lengthAdjust="spacingAndGlyphs" stroke="#131722" stroke-width="0.18">Jul</text><text x="106" y="772.5" font-size="13.2" fill="#131722" text-anchor="middle" font-weight="bold" dominant-baseline="central" textLength="31" lengthAdjust="spacingAndGlyphs">2017</text><text x="170.5" y="772.5" font-size="13.2" fill="#131722" text-anchor="middle" font-weight="normal" dominant-baseline="central" textLength="15.5" lengthAdjust="spacingAndGlyphs" stroke="#131722" stroke-width="0.18">Jul</text><text x="235" y="772.5" font-size="13.2" fill="#131722" text-anchor="middle" font-weight="bold" dominant-baseline="central" textLength="31" lengthAdjust="spacingAndGlyphs">2018</text><text x="300" y="772.5" font-size="13.2" fill="#131722" text-anchor="middle" font-weight="normal" dominant-baseline="central" textLength="15.5" lengthAdjust="spacingAndGlyphs" stroke="#131722" stroke-width="0.18">Jul</text><text x="367" y="772.5" font-size="13.2" fill="#131722" text-anchor="middle" font-weight="bold" dominant-baseline="central" textLength="31" lengthAdjust="spacingAndGlyphs">2019</text><text x="429" y="772.5" font-size="13.2" fill="#131722" text-anchor="middle" font-weight="normal" dominant-baseline="central" textLength="15.5" lengthAdjust="spacingAndGlyphs" stroke="#131722" stroke-width="0.18">Jul</text><text x="496" y="772.5" font-size="13.2" fill="#131722" text-anchor="middle" font-weight="bold" dominant-baseline="central" textLength="31" lengthAdjust="spacingAndGlyphs">2020</text><text x="561" y="772.5" font-size="13.2" fill="#131722" text-anchor="middle" font-weight="normal" dominant-baseline="central" textLength="15.5" lengthAdjust="spacingAndGlyphs" stroke="#131722" stroke-width="0.18">Jul</text><text x="625" y="772.5" font-size="13.2" fill="#131722" text-anchor="middle" font-weight="bold" dominant-baseline="central" textLength="31" lengthAdjust="spacingAndGlyphs">2021</text><text x="690" y="772.5" font-size="13.2" fill="#131722" text-anchor="middle" font-weight="normal" dominant-baseline="central" textLength="15.5" lengthAdjust="spacingAndGlyphs" stroke="#131722" stroke-width="0.18">Jul</text><text x="755" y="772.5" font-size="13.2" fill="#131722" text-anchor="middle" font-weight="bold" dominant-baseline="central" textLength="31" lengthAdjust="spacingAndGlyphs">2022</text><text x="820" y="772.5" font-size="13.2" fill="#131722" text-anchor="middle" font-weight="normal" dominant-baseline="central" textLength="15.5" lengthAdjust="spacingAndGlyphs" stroke="#131722" stroke-width="0.18">Jul</text><text x="884.5" y="772.5" font-size="13.2" fill="#131722" text-anchor="middle" font-weight="bold" dominant-baseline="central" textLength="31" lengthAdjust="spacingAndGlyphs">2023</text><text x="949" y="772.5" font-size="13.2" fill="#131722" text-anchor="middle" font-weight="normal" dominant-baseline="central" textLength="15.5" lengthAdjust="spacingAndGlyphs" stroke="#131722" stroke-width="0.18">Jul</text><text x="1013.5" y="772.5" font-size="13.2" fill="#131722" text-anchor="middle" font-weight="bold" dominant-baseline="central" textLength="31" lengthAdjust="spacingAndGlyphs">2024</text><text x="1078.5" y="772.5" font-size="13.2" fill="#131722" text-anchor="middle" font-weight="normal" dominant-baseline="central" textLength="15.5" lengthAdjust="spacingAndGlyphs" stroke="#131722" stroke-width="0.18">Jul</text><text x="1145.5" y="772.5" font-size="13.2" fill="#131722" text-anchor="middle" font-weight="bold" dominant-baseline="central" textLength="31" lengthAdjust="spacingAndGlyphs">2025</text><text x="1210" y="772.5" font-size="13.2" fill="#131722" text-anchor="middle" font-weight="normal" dominant-baseline="central" textLength="15.5" lengthAdjust="spacingAndGlyphs" stroke="#131722" stroke-width="0.18">Jul</text><text x="1274.5" y="772.5" font-size="13.2" fill="#131722" text-anchor="middle" font-weight="bold" dominant-baseline="central" textLength="31" lengthAdjust="spacingAndGlyphs">2026</text><g transform="translate(1365.5 772.4)" fill="none" stroke="#131722" stroke-width="1.25" stroke-linejoin="round"><path d="M-7.2 0L-3.8 -6H3.9L7.2 0L3.9 6H-3.8Z"/><circle r="2.3"/></g></svg>
</body></html>
